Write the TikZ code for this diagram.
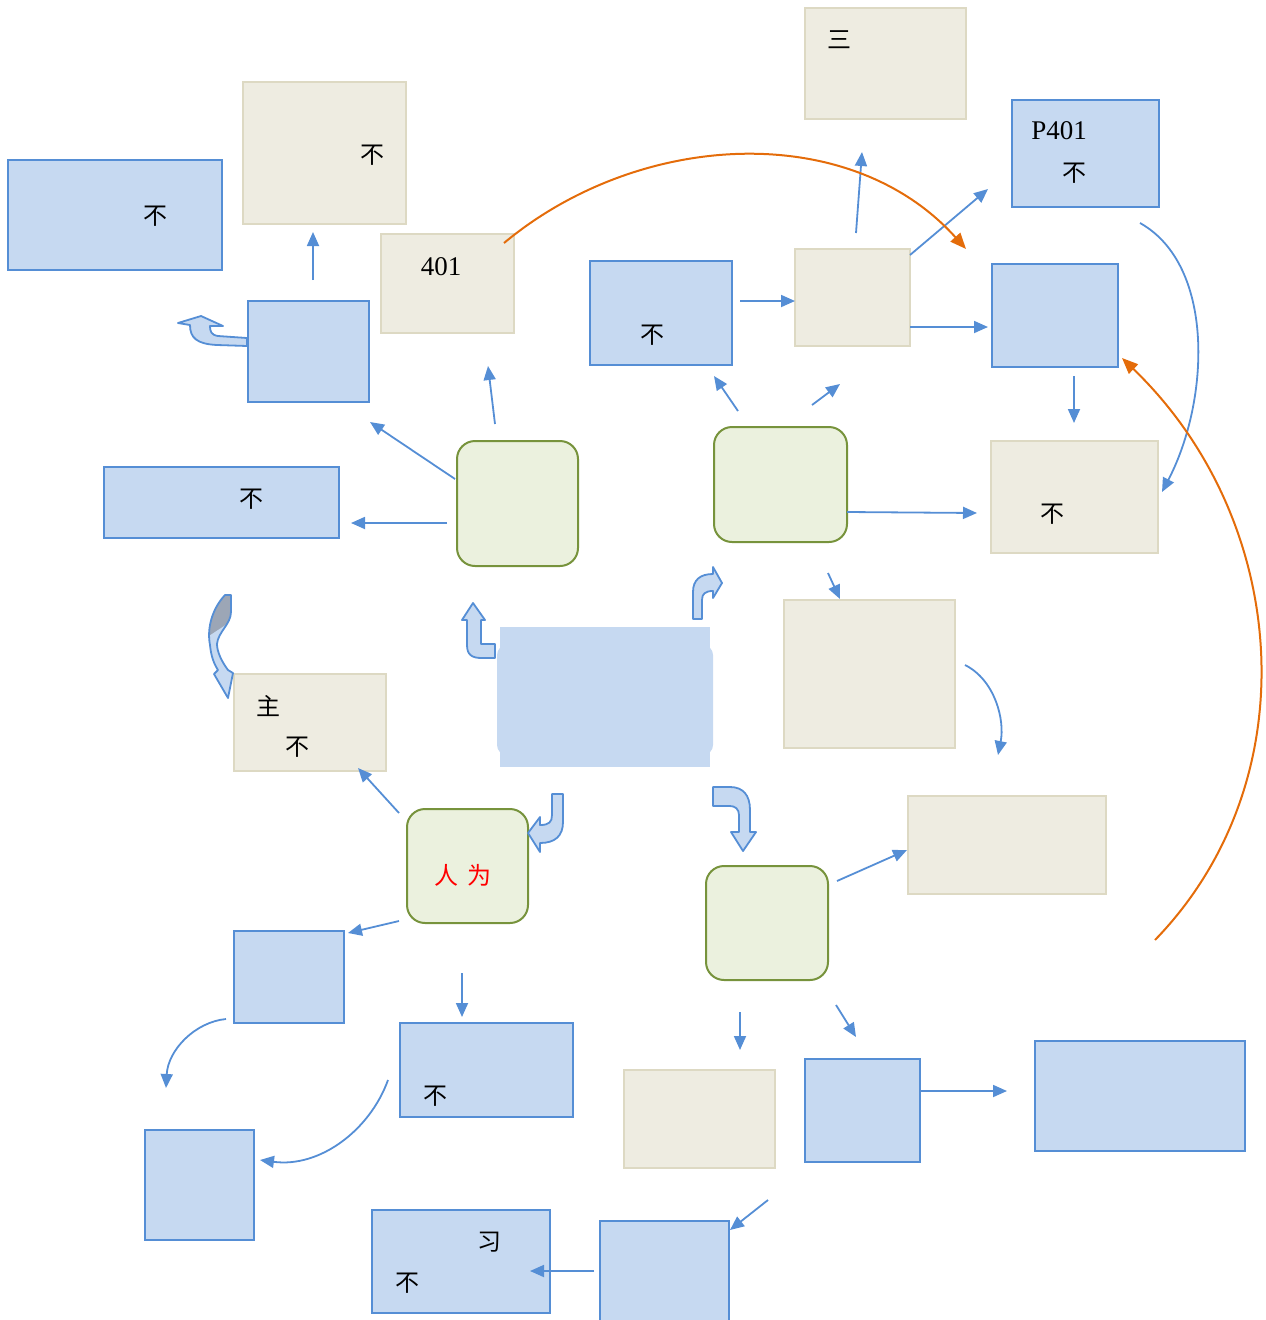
\documentclass[tikz,border=0pt]{standalone}
\usepackage{fontspec}
\setmainfont{Liberation Serif}
\newfontfamily\cjk{Noto Sans CJK SC}
\usetikzlibrary{arrows.meta}
\definecolor{bfill}{HTML}{C6D9F1}
\definecolor{bline}{HTML}{558ED5}
\definecolor{tfill}{HTML}{EEECE1}
\definecolor{tline}{HTML}{DDD9C3}
\definecolor{gfill}{HTML}{EBF1DE}
\definecolor{gline}{HTML}{77933C}
\definecolor{orng}{HTML}{E46C0A}
\definecolor{gry}{HTML}{9CA6B6}
\newcommand\bx[6]{\node[#2, minimum width={(#5)-(#3)}, minimum height={(#6)-(#4)}] (#1) at ({((#3)+(#5))/2},{-((#4)+(#6))/2}) {};}
\newcommand\cshape{(225,-595) .. controls (211,-610) and (207,-630) .. (210,-645) .. controls (211,-656) and (214,-664) .. (218,-670) -- (214,-674) -- (228,-698) -- (233,-673) -- (228,-670) .. controls (222,-662) and (217,-652) .. (217,-644) .. controls (218,-632) and (231,-624) .. (231,-612) -- (231,-595) -- cycle}
\begin{document}
\begin{tikzpicture}[x=1pt,y=1pt,
  bbox/.style={draw=bline, fill=bfill, line width=2pt, inner sep=0pt},
  tbox/.style={draw=tline, fill=tfill, line width=2pt, inner sep=0pt},
  gbox/.style={draw=gline, fill=gfill, line width=2pt, rounded corners=18pt, inner sep=0pt},
  arr/.style={draw=bline, line width=1.8pt, -{Triangle[length=14pt,width=12pt]}},
  oarr/.style={draw=orng, line width=2pt, -{Triangle[length=16pt,width=13pt]}},
  barr/.style={draw=bline, fill=bfill, line width=1.8pt, line join=round},
  lab/.style={font=\cjk\fontsize{24}{24}\selectfont, inner sep=0pt},
  llab/.style={font=\fontsize{27}{27}\selectfont, inner sep=0pt}]
\useasboundingbox (0,0) rectangle (1266,-1320);

% boxes
\bx{b1}{bbox}{8}{160}{222}{270}
\bx{t1}{tbox}{243}{82}{406}{224}
\bx{t401}{tbox}{381}{234}{514}{333}
\bx{b2}{bbox}{248}{301}{369}{402}
\bx{b3}{bbox}{104}{467}{339}{538}
\bx{g1}{gbox}{457}{441}{578}{566}
\bx{b4}{bbox}{590}{261}{732}{365}
\bx{t2}{tbox}{795}{249}{910}{346}
\bx{t3}{tbox}{805}{8}{966}{119}
\bx{p401}{bbox}{1012}{100}{1159}{207}
\bx{b5}{bbox}{992}{264}{1118}{367}
\bx{t4}{tbox}{991}{441}{1158}{553}
\bx{g2}{gbox}{714}{427}{847}{542}
\bx{t5}{tbox}{784}{600}{955}{748}
\fill[bfill, rounded corners=10pt] (497,-645) rectangle (713,-755);
\node[fill=bfill, inner sep=0pt, minimum width=210, minimum height=140] (c) at (605,-697) {};
\bx{tz}{tbox}{234}{674}{386}{771}
\bx{g3}{gbox}{407}{809}{528}{923}
\bx{t6}{tbox}{908}{796}{1106}{894}
\bx{g4}{gbox}{706}{866}{828}{980}
\bx{b6}{bbox}{234}{931}{344}{1023}
\bx{b7}{bbox}{400}{1023}{573}{1117}
\bx{b8}{bbox}{145}{1130}{254}{1240}
\bx{t7}{tbox}{624}{1070}{775}{1168}
\bx{b9}{bbox}{805}{1059}{920}{1162}
\bx{b10}{bbox}{1035}{1041}{1245}{1151}
\bx{b11}{bbox}{372}{1210}{550}{1313}
\bx{b12}{bbox}{600}{1221}{729}{1340}

% texts
\node[lab] (x1) at (155,-216) {不};
\node[lab] (x2) at (372,-155) {不};
\node[llab] (x3) at (441,-267) {401};
\node[lab] (x4) at (251,-499) {不};
\node[lab] (x5) at (652,-335) {不};
\node[lab] (x6) at (839,-40) {三};
\node[llab] (x7) at (1059,-131) {P401};
\node[lab] (x8) at (1074,-173) {不};
\node[lab] (x9) at (1052,-514) {不};
\node[lab] (x10) at (268,-706) {主};
\node[lab] (x11) at (297,-747) {不};
\node[lab, text=red] (x12) at (463,-875) {人\hspace{10pt}为};
\node[lab] (x13) at (435,-1096) {不};
\node[lab] (x14) at (489,-1242) {习};
\node[lab] (x15) at (407,-1283) {不};

% thin arrows
\draw[arr] (313,-280) -- (313,-232);
\draw[arr] (455,-479) -- (370,-422);
\draw[arr] (495,-424) -- (488,-366);
\draw[arr] (447,-523) -- (351,-523);
\draw[arr] (740,-301) -- (795,-301);
\draw[arr] (856,-233) -- (862,-152);
\draw[arr] (910,-255) -- (988,-189);
\draw[arr] (910,-327) -- (988,-327);
\draw[arr] (1074,-376) -- (1074,-423);
\draw[arr] (738,-411) -- (714,-376);
\draw[arr] (812,-405) -- (840,-384);
\draw[arr] (847,-512) -- (977,-513);
\draw[arr] (828,-573) -- (840,-599);
\draw[arr] (1140,-223) .. controls (1215,-265) and (1210,-400) .. (1162,-492);
\draw[arr] (965,-665) .. controls (995,-680) and (1005,-720) .. (998,-755);
\draw[arr] (399,-813) -- (358,-768);
\draw[arr] (399,-921) -- (348,-933);
\draw[arr] (462,-973) -- (462,-1017);
\draw[arr] (226,-1019) .. controls (195,-1022) and (168,-1050) .. (166,-1088);
\draw[arr] (388,-1080) .. controls (370,-1130) and (320,-1168) .. (260,-1160);
\draw[arr] (837,-881) -- (907,-850);
\draw[arr] (740,-1012) -- (740,-1050);
\draw[arr] (836,-1005) -- (856,-1037);
\draw[arr] (921,-1091) -- (1007,-1091);
\draw[arr] (768,-1200) -- (730,-1230);
\draw[arr] (594,-1271) -- (530,-1271);

% orange arcs
\draw[oarr] (504,-243) .. controls (640,-130) and (850,-120) .. (966,-249);
\draw[oarr] (1155,-940) .. controls (1310,-780) and (1290,-520) .. (1122,-358);

% block arrows
\draw[barr] (495,-644) -- (481,-644) -- (481,-620) -- (485,-620) -- (473,-603) -- (462,-620) -- (467,-620) -- (467,-645) .. controls (467,-655) and (472,-658) .. (482,-658) -- (495,-658) -- cycle;
\draw[barr] (693,-619) -- (693,-592) .. controls (693,-580) and (700,-574) .. (713,-574) -- (713,-567) -- (722,-583) -- (713,-598) -- (713,-591) .. controls (705,-591) and (702,-594) .. (702,-600) -- (702,-619) -- cycle;
\draw[barr] (552,-794) -- (563,-794) -- (563,-822) .. controls (563,-836) and (555,-843) .. (540,-843) -- (540,-852) -- (528,-833) -- (540,-817) -- (540,-825) .. controls (549,-825) and (552,-822) .. (552,-815) -- cycle;
\draw[barr] (713,-787) -- (730,-787) .. controls (743,-787) and (750,-795) .. (750,-810) -- (750,-832) -- (756,-832) -- (743,-851) -- (731,-832) -- (739,-832) -- (739,-815) .. controls (739,-809) and (735,-806) .. (730,-806) -- (713,-806) -- cycle;
\draw[barr] (247,-338) -- (218,-336) .. controls (211,-335) and (210,-331) .. (210,-326) -- (223,-326) -- (201,-316) -- (178,-323) -- (190,-325) .. controls (190,-338) and (197,-344) .. (217,-345) -- (247,-346) -- cycle;
% curved down arrow with grey back
\fill[bfill] \cshape;
\begin{scope}
\clip (195,-585) -- (245,-585) -- (245,-612) -- (195,-645) -- cycle;
\fill[gry] \cshape;
\end{scope}
\draw[draw=bline, line width=1.8pt, line join=round] \cshape;
\end{tikzpicture}
\end{document}
